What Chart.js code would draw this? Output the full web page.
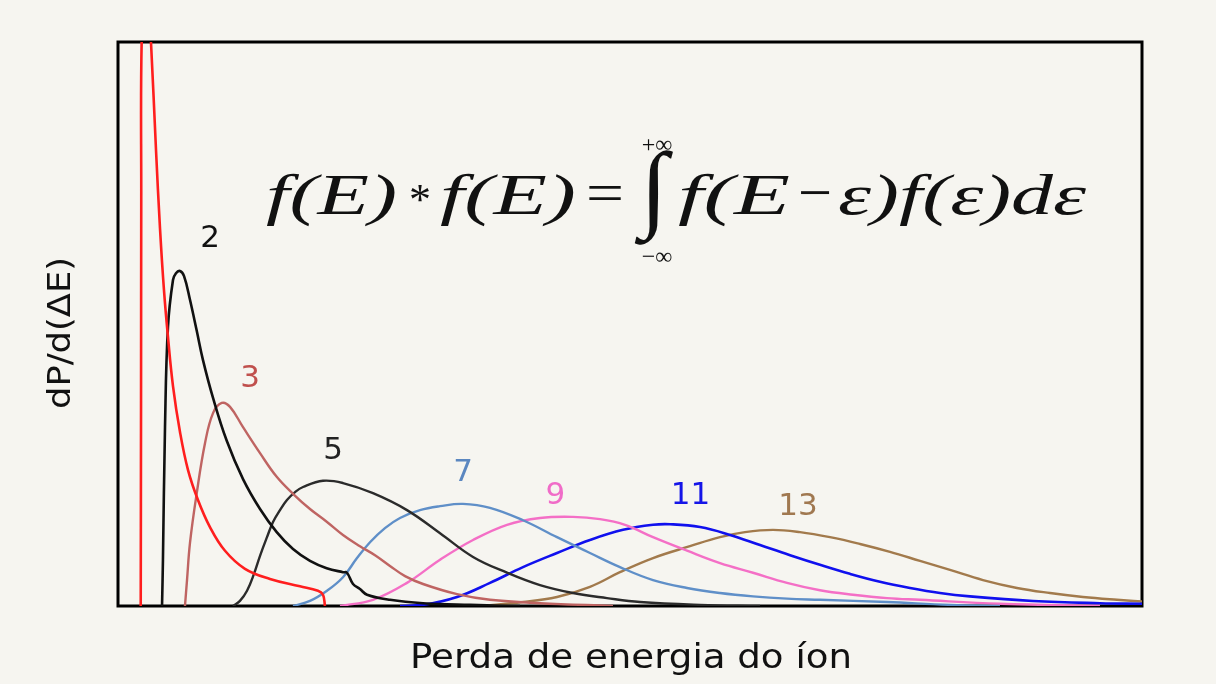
<!DOCTYPE html>
<html>
<head>
<meta charset="utf-8">
<script src="https://cdn.jsdelivr.net/npm/chart.js@4/dist/chart.umd.min.js"></script>
<style>
  html, body { margin: 0; padding: 0; background: #f6f5f0; }
  #wrap { width: 1216px; height: 684px; }
</style>
</head>
<body>
<div id="wrap"><canvas id="chart" width="1216" height="684"></canvas></div>
<script>
// Energy-loss distributions after n collisions (arbitrary units, x: energy loss, y: dP/d(ΔE))
const curve1 = [[2.22,0],[2.25,36.5],[2.27,72.0],[2.31,100],[2.73,114.5],[3.22,100],[3.71,80.9],[4.10,67.0],[4.49,56.0],[4.88,47.7],[5.37,39.0],[6.05,30.9],[6.84,24.1],[7.81,18.8],[8.98,14.0],[10.45,9.8],[12.40,6.6],[14.84,4.8],[17.77,3.5],[19.53,2.7],[20.02,2.0],[20.21,0]];
const curve2 = [[4.30,0],[4.39,8.2],[4.59,31.7],[4.88,49.5],[5.37,57.8],[5.66,59.0],[6.05,59.4],[6.45,58.5],[7.03,54.3],[7.69,48.8],[8.30,43.6],[9.28,36.9],[10.62,29.3],[12.21,22.5],[13.87,17.2],[15.50,13.1],[17.09,10.1],[18.75,8.0],[20.38,6.7],[21.97,6.0],[22.36,5.9],[22.95,3.9],[23.63,3.0],[24.32,2.0],[26.56,1.1],[29.79,0.5],[34.38,0.2],[39.26,0]];
const curve3 = [[6.54,0],[6.74,4.6],[7.03,11.2],[7.69,20.0],[8.50,28.9],[9.28,34.2],[10.13,36.0],[10.94,35.3],[12.21,31.7],[13.87,27.1],[15.50,22.9],[17.09,19.9],[18.75,17.2],[20.41,14.9],[21.97,12.6],[23.63,10.6],[25.10,9.0],[26.56,7.1],[28.03,5.3],[29.79,3.9],[33.11,2.1],[36.33,1.1],[41.21,0.5],[48.34,0]];
const curve5 = [[11.23,0],[11.91,0.9],[12.60,2.7],[13.28,5.7],[13.87,8.9],[14.55,12.2],[15.14,14.9],[15.82,17.0],[16.50,18.8],[17.29,20.2],[18.07,21.1],[20.02,22.2],[21.97,21.8],[24.90,20.0],[28.22,17.0],[31.45,12.9],[34.67,8.7],[37.99,5.9],[41.21,3.7],[44.43,2.3],[47.75,1.4],[50.98,0.7],[56.84,0.2],[62.70,0]];
const curve7 = [[17.09,0],[18.75,0.9],[20.41,2.7],[21.97,5.1],[23.34,8.5],[24.61,11.3],[26.07,13.8],[27.54,15.6],[29.49,17.0],[31.45,17.7],[33.69,18.1],[36.33,17.4],[39.55,15.2],[42.87,12.2],[46.09,9.4],[49.02,6.9],[52.25,4.6],[55.57,3.2],[58.79,2.3],[62.01,1.7],[65.33,1.3],[68.55,1.1],[75.10,0.7],[81.25,0.2],[86.13,0]];
const curve9 = [[21.68,0],[24.90,1.1],[28.22,4.1],[31.45,8.2],[34.67,11.7],[37.99,14.4],[41.21,15.6],[44.43,15.8],[47.07,15.4],[49.51,14.4],[52.25,12.2],[55.57,9.8],[58.79,7.6],[62.01,5.9],[65.33,4.1],[68.55,2.8],[71.78,2.0],[75.10,1.4],[78.32,1.1],[86.13,0.4],[95.90,0]];
const curve11 = [[27.54,0],[29.79,0.2],[33.11,1.6],[36.33,4.1],[39.55,6.9],[42.87,9.4],[46.09,11.7],[49.32,13.5],[52.25,14.4],[53.91,14.5],[56.84,14.0],[59.77,12.6],[62.70,10.8],[65.63,9.0],[68.55,7.3],[71.48,5.7],[74.41,4.3],[77.34,3.2],[80.27,2.3],[83.20,1.7],[89.36,0.9],[95.90,0.5],[100,0.4]];
const curve13 = [[35.35,0],[39.55,0.7],[42.87,1.6],[46.09,3.4],[49.02,6.0],[52.25,8.5],[55.86,10.6],[58.79,12.2],[61.23,13.1],[63.96,13.5],[66.60,13.1],[69.53,12.2],[72.46,11.0],[75.39,9.6],[78.32,8.0],[81.25,6.4],[84.47,4.6],[87.79,3.2],[91.02,2.3],[94.24,1.6],[97.56,1.1],[100.78,0.7]];

const seriesNames = ['1', '2', '3', '5', '7', '9', '11', '13'];
const seriesData = [curve1, curve2, curve3, curve5, curve7, curve9, curve11, curve13];
const seriesColors = ['#ff1e1e', '#111111', '#bf6462', '#2b2b2b', '#5f8fc8', '#f46fc6', '#1010ee', '#a27a4c'];
const seriesWidths = [2.6, 2.6, 2.4, 2.4, 2.4, 2.4, 2.6, 2.4];

// Curve labels: text, anchor (data units) and colour
const labelText = ['2', '3', '5', '7', '9', '11', '13'];
const labelX = [9.0, 12.9, 21.0, 33.7, 42.7, 55.9, 66.4];
const labelY = [65.0, 40.3, 27.5, 23.6, 19.5, 19.5, 17.6];
const labelColors = ['#111111', '#c0504d', '#222222', '#5b87c0', '#f06cc8', '#1515e8', '#a07850'];

const BG = '#f6f5f0';
const SANS = '"DejaVu Sans", Verdana, sans-serif';
const SERIF = '"Liberation Serif", "Times New Roman", serif';

// Draw text stretched/compressed horizontally to span x0..x1
function drawFit(ctx, text, x0, x1, y, font) {
  ctx.save();
  ctx.font = font;
  ctx.textAlign = 'left';
  const w = ctx.measureText(text).width;
  ctx.translate(x0, y);
  ctx.scale((x1 - x0) / w, 1);
  ctx.fillText(text, 0, 0);
  ctx.restore();
}

const framePlugin = {
  id: 'frame',
  beforeDraw(chart) {
    const { ctx, width, height } = chart;
    ctx.save();
    ctx.fillStyle = BG;
    ctx.fillRect(0, 0, width, height);
    ctx.restore();
  },
  beforeDatasetsDraw(chart) {
    const { ctx, chartArea: a } = chart;
    ctx.save();
    ctx.strokeStyle = '#000';
    ctx.lineWidth = 3;
    ctx.strokeRect(a.left, a.top, a.right - a.left, a.bottom - a.top);
    ctx.restore();
  },
  afterDatasetsDraw(chart) {
    const { ctx, scales } = chart;
    const xs = scales.x, ys = scales.y;
    ctx.save();

    // n labels next to each curve
    ctx.textBaseline = 'middle';
    ctx.textAlign = 'center';
    ctx.font = '31px ' + SANS;
    labelText.forEach((t, i) => {
      ctx.fillStyle = labelColors[i];
      ctx.fillText(t, xs.getPixelForValue(labelX[i]), ys.getPixelForValue(labelY[i]));
    });

    // Convolution formula
    ctx.fillStyle = '#111';
    ctx.textBaseline = 'alphabetic';
    const it = 'italic 58px ' + SERIF;
    drawFit(ctx, 'f(E)', 266, 397, 214, it);
    ctx.font = '44px ' + SERIF;
    ctx.textAlign = 'center';
    ctx.fillText('*', 420, 214);
    drawFit(ctx, 'f(E)', 440, 576, 214, it);
    drawFit(ctx, '=', 586, 624, 212, '58px ' + SERIF);
    ctx.textAlign = 'center';
    ctx.textBaseline = 'middle';
    ctx.save();
    ctx.font = '96px ' + SERIF;
    ctx.translate(654, 194);
    ctx.scale(1.05, 1.0);
    ctx.fillText('\u222B', 0, 0);
    ctx.restore();
    ctx.font = '24px ' + SERIF;
    ctx.fillText('+\u221E', 657, 146);
    ctx.fillText('\u2212\u221E', 657, 258);
    ctx.textBaseline = 'alphabetic';
    drawFit(ctx, 'f(E', 678, 790, 214, it);
    drawFit(ctx, '\u2212', 798, 832, 212, '58px ' + SERIF);
    drawFit(ctx, '\u03B5)f(\u03B5)d\u03B5', 838, 1086, 214, it);

    // Axis titles
    ctx.fillStyle = '#111';
    ctx.textBaseline = 'middle';
    drawFit(ctx, 'Perda de energia do \u00EDon', 410, 852, 659, '34px ' + SANS);
    ctx.save();
    ctx.translate(62, 0);
    ctx.rotate(-Math.PI / 2);
    drawFit(ctx, 'dP/d(\u0394E)', -409, -257, 0, '32px ' + SANS);
    ctx.restore();
    ctx.restore();
  }
};

new Chart(document.getElementById('chart'), {
  type: 'line',
  data: {
    datasets: seriesData.map((pts, i) => ({
      label: seriesNames[i],
      data: pts.map(p => ({ x: p[0], y: p[1] })),
      borderColor: seriesColors[i],
      borderWidth: seriesWidths[i],
      pointRadius: 0,
      fill: false,
      tension: 0.4
    }))
  },
  options: {
    responsive: false,
    animation: false,
    layout: { padding: { left: 118, right: 74, top: 42, bottom: 78 } },
    scales: {
      x: { type: 'linear', min: 0, max: 100, display: false },
      y: { type: 'linear', min: 0, max: 100, display: false }
    },
    plugins: { legend: { display: false }, tooltip: { enabled: false } }
  },
  plugins: [framePlugin]
});
</script>
</body>
</html>
